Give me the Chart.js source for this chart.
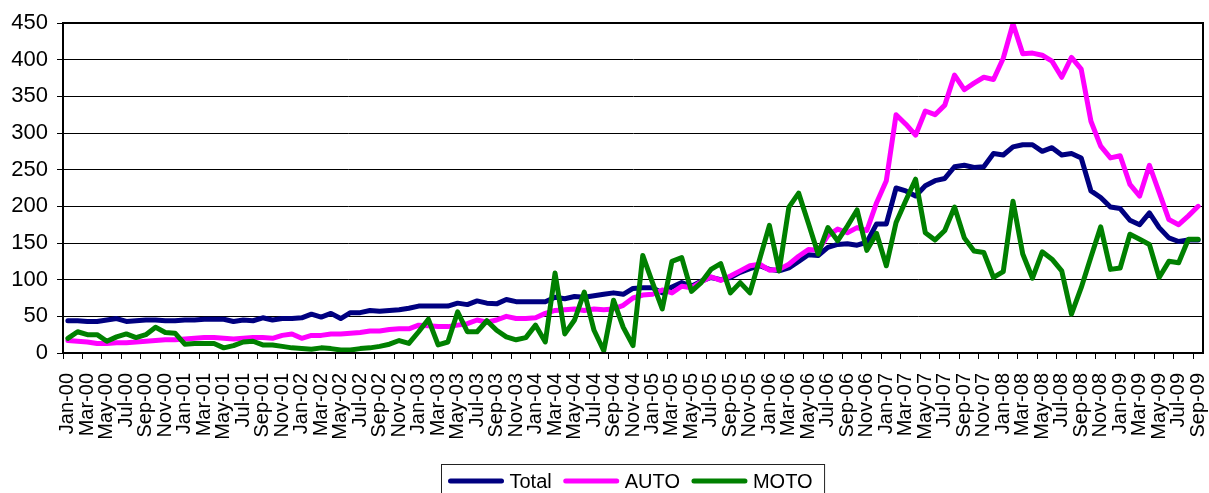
<!DOCTYPE html>
<html lang="en">
<head>
<meta charset="UTF-8">
<title>Total / AUTO / MOTO</title>
<script src="https://cdn.jsdelivr.net/npm/chart.js"></script>
<style>
  html, body { margin: 0; padding: 0; background: #fff; }
  #wrap { width: 1209px; height: 493px; position: relative; }
</style>
</head>
<body>
<div id="wrap"><canvas id="salesChart"></canvas></div>
<script>
// monthly categories Jan-00 .. Sep-09
const months = [
  "Jan-00","Feb-00","Mar-00","Apr-00","May-00","Jun-00","Jul-00","Aug-00","Sep-00","Oct-00","Nov-00","Dec-00",
  "Jan-01","Feb-01","Mar-01","Apr-01","May-01","Jun-01","Jul-01","Aug-01","Sep-01","Oct-01","Nov-01","Dec-01",
  "Jan-02","Feb-02","Mar-02","Apr-02","May-02","Jun-02","Jul-02","Aug-02","Sep-02","Oct-02","Nov-02","Dec-02",
  "Jan-03","Feb-03","Mar-03","Apr-03","May-03","Jun-03","Jul-03","Aug-03","Sep-03","Oct-03","Nov-03","Dec-03",
  "Jan-04","Feb-04","Mar-04","Apr-04","May-04","Jun-04","Jul-04","Aug-04","Sep-04","Oct-04","Nov-04","Dec-04",
  "Jan-05","Feb-05","Mar-05","Apr-05","May-05","Jun-05","Jul-05","Aug-05","Sep-05","Oct-05","Nov-05","Dec-05",
  "Jan-06","Feb-06","Mar-06","Apr-06","May-06","Jun-06","Jul-06","Aug-06","Sep-06","Oct-06","Nov-06","Dec-06",
  "Jan-07","Feb-07","Mar-07","Apr-07","May-07","Jun-07","Jul-07","Aug-07","Sep-07","Oct-07","Nov-07","Dec-07",
  "Jan-08","Feb-08","Mar-08","Apr-08","May-08","Jun-08","Jul-08","Aug-08","Sep-08","Oct-08","Nov-08","Dec-08",
  "Jan-09","Feb-09","Mar-09","Apr-09","May-09","Jun-09","Jul-09","Aug-09","Sep-09"
];

const totalValues = [
  44, 44, 43, 43, 45, 47, 43, 44, 45, 45, 44, 44,
  45, 45, 46, 46, 46, 43, 45, 44, 48, 45, 47, 47,
  48, 53, 49, 54, 47, 55, 55, 58, 57, 58, 59, 61,
  64, 64, 64, 64, 68, 66, 71, 68, 67, 73, 70, 70,
  70, 70, 76, 74, 77, 76, 78, 80, 82, 80, 88, 89,
  89, 82, 90, 96, 91, 98, 103, 100, 103, 110, 115, 119,
  114, 112, 116, 125, 134, 133, 144, 148, 149, 147, 151, 176,
  176, 225, 221, 214, 228, 235, 238, 254, 256, 253, 254, 272,
  270, 281, 284, 284, 275, 280, 270, 272, 266, 221, 212, 199,
  197, 181, 175, 191, 171, 157, 152, 154, 154
];

const autoValues = [
  17, 16, 15, 13, 13, 14, 14, 15, 16, 17, 18, 18,
  19, 20, 21, 21, 20, 19, 20, 21, 21, 20, 24, 26,
  20, 24, 24, 26, 26, 27, 28, 30, 30, 32, 33, 33,
  38, 37, 36, 36, 38, 40, 45, 42, 45, 50, 47, 47,
  48, 54, 58, 59, 60, 58, 60, 59, 60, 65, 75, 79,
  80, 86, 82, 91, 89, 97, 104, 99, 105, 112, 119, 121,
  113, 114, 121, 132, 141, 140, 160, 169, 164, 171, 167, 205,
  235, 325, 312, 297, 330, 325, 338, 379, 359, 368, 376, 373,
  402, 449, 408, 409, 406, 398, 376, 403, 387, 316, 282, 266,
  269, 230, 214, 256, 219, 182, 175, 187, 200
];

const motoValues = [
  20, 29, 25, 25, 16, 22, 26, 21, 25, 35, 28, 27,
  12, 13, 13, 13, 7, 10, 15, 16, 11, 11, 9, 7,
  6, 5, 7, 6, 4, 4, 6, 7, 9, 12, 17, 13,
  29, 46, 11, 15, 56, 29, 29, 44, 31, 22, 18, 21,
  38, 15, 109, 26, 45, 83, 31, 3, 72, 35, 10, 133,
  96, 60, 125, 130, 84, 96, 114, 122, 82, 96, 82, 128,
  174, 112, 199, 218, 177, 135, 171, 153, 173, 195, 140, 163,
  119, 178, 208, 237, 164, 154, 167, 199, 157, 139, 137, 103,
  111, 207, 135, 102, 138, 128, 112, 53, 89, 131, 172, 114,
  116, 162, 155, 148, 103, 125, 123, 155, 155
];

const FONT = '"Liberation Sans", Arial, sans-serif';

// frame around the plot + boxed legend under the axis labels
const frameAndLegend = {
  id: 'frameAndLegend',
  afterDraw(chart) {
    const ctx = chart.ctx;
    const a = chart.chartArea;
    ctx.save();
    ctx.strokeStyle = '#000';
    ctx.lineWidth = 2;
    ctx.strokeRect(a.left, a.top, a.right - a.left, a.bottom - a.top);

    ctx.font = '20px ' + FONT;
    const sample = 55, gap = 6, sep = 12, pad = 7;
    const items = chart.data.datasets.map(ds => ({
      label: ds.label, color: ds.borderColor, w: ctx.measureText(ds.label).width
    }));
    let boxW = pad + sep;
    items.forEach((it, i) => { boxW += sample + gap + it.w + (i ? sep : 0); });
    const boxL = Math.round((a.left + a.right) / 2 - boxW / 2) + 0.5;
    const boxT = 464.5, lineY = 481;

    ctx.lineWidth = 1;
    ctx.strokeStyle = '#222';
    ctx.strokeRect(boxL, boxT, boxW, 40);

    let x = boxL + pad;
    ctx.textBaseline = 'middle';
    ctx.textAlign = 'left';
    ctx.lineCap = 'round';
    items.forEach(it => {
      ctx.strokeStyle = it.color;
      ctx.lineWidth = 5;
      ctx.beginPath();
      ctx.moveTo(x + 2, lineY);
      ctx.lineTo(x + sample - 2, lineY);
      ctx.stroke();
      ctx.fillStyle = '#000';
      ctx.fillText(it.label, x + sample + gap, lineY + 1);
      x += sample + gap + it.w + sep;
    });
    ctx.restore();
  }
};

const lineStyle = { borderWidth: 5, pointRadius: 0, tension: 0, fill: false,
                    borderJoinStyle: 'round', borderCapStyle: 'round' };

new Chart(document.getElementById('salesChart'), {
  type: 'line',
  data: {
    labels: months,
    datasets: [
      { label: 'Total', data: totalValues, borderColor: '#000080', backgroundColor: '#000080', order: 3, ...lineStyle },
      { label: 'AUTO',  data: autoValues,  borderColor: '#FF00FF', backgroundColor: '#FF00FF', order: 2, ...lineStyle },
      { label: 'MOTO',  data: motoValues,  borderColor: '#008000', backgroundColor: '#008000', order: 1, ...lineStyle }
    ]
  },
  options: {
    responsive: true,
    maintainAspectRatio: false,
    animation: false,
    layout: { padding: { top: 23, right: 6, left: 0, bottom: 0 } },
    plugins: {
      legend: { display: false },
      tooltip: { enabled: false }
    },
    scales: {
      x: {
        offset: true,
        grid: {
          offset: true,
          drawOnChartArea: false,
          tickLength: 6,
          color: c => (c.index % 2 === 0 ? '#000' : 'rgba(0,0,0,0)')
        },
        border: { color: '#000', width: 2 },
        ticks: {
          autoSkip: false,
          maxRotation: 90,
          minRotation: 90,
          padding: 14,
          color: '#000',
          font: { family: FONT, size: 20 },
          callback: (v, i) => (i % 2 === 0 ? months[i] : '')
        },
        afterFit: s => { s.height = 140; s.paddingLeft = 0; s.paddingRight = 0; }
      },
      y: {
        min: 0,
        max: 450,
        grid: { color: '#000', lineWidth: 1, tickLength: 6 },
        border: { color: '#000', width: 2 },
        ticks: {
          stepSize: 50,
          padding: 9,
          color: '#000',
          font: { family: FONT, size: 22 }
        },
        afterFit: s => { s.width = 63; }
      }
    }
  },
  plugins: [frameAndLegend]
});
</script>
</body>
</html>
